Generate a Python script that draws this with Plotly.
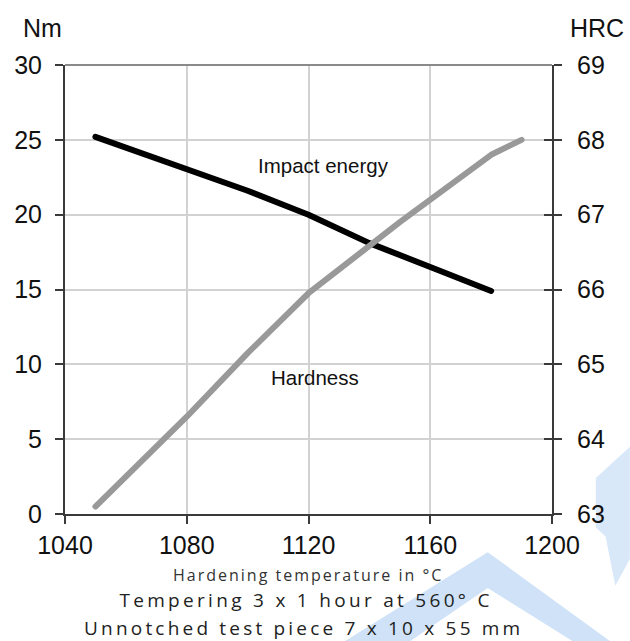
import plotly.graph_objects as go

# Hardening temperature (°C)
impact_temp = [1050, 1080, 1100, 1120, 1140, 1160, 1180]
impact_energy = [25.2, 23.1, 21.6, 20.0, 18.1, 16.5, 14.9]  # Nm

hard_temp = [1050, 1080, 1100, 1120, 1150, 1180, 1190]
hardness = [63.1, 64.3, 65.15, 65.95, 66.9, 67.8, 68.0]  # HRC

x_ticks = [1040, 1080, 1120, 1160, 1200]
nm_ticks = [0, 5, 10, 15, 20, 25, 30]
hrc_ticks = [63, 64, 65, 66, 67, 68, 69]

AXIS = "#3a3a3a"
GRID = "#d2d2d2"
TICKFONT = dict(family="Liberation Sans, Arial", size=25, color="#111111")

fig = go.Figure()

fig.add_trace(go.Scatter(
    x=impact_temp, y=impact_energy, mode="lines",
    line=dict(color="#000000", width=6), yaxis="y", showlegend=False,
    hoverinfo="skip",
))
fig.add_trace(go.Scatter(
    x=hard_temp, y=hardness, mode="lines",
    line=dict(color="#999999", width=6), yaxis="y2", showlegend=False,
    hoverinfo="skip",
))
# empty trace so the inner tick marks of the right axis get drawn
fig.add_trace(go.Scatter(x=[None], y=[None], yaxis="y3", showlegend=False))

fig.update_layout(
    width=630, height=641,
    margin=dict(l=65, r=78, t=65, b=127),
    paper_bgcolor="white", plot_bgcolor="white",
    xaxis=dict(
        range=[1040, 1200], tickvals=x_ticks, ticks="outside", ticklen=8,
        tickwidth=1.5, tickcolor=AXIS, showline=True, linecolor=AXIS,
        linewidth=2, showgrid=True, gridcolor=GRID, gridwidth=1.5,
        zeroline=False, tickfont=TICKFONT, ticklabelstandoff=0,
    ),
    yaxis=dict(
        range=[0, 30], tickvals=nm_ticks, ticks="outside", ticklen=8,
        tickwidth=1.5, tickcolor=AXIS, showline=True, linecolor=AXIS,
        linewidth=2, showgrid=True, gridcolor=GRID, gridwidth=1.5,
        zeroline=False, tickfont=TICKFONT, ticklabelstandoff=8,
    ),
    yaxis2=dict(
        range=[63, 69], tickvals=hrc_ticks, overlaying="y", side="right",
        ticks="outside", ticklen=8, tickwidth=1.5, tickcolor=AXIS,
        showline=True, linecolor=AXIS, linewidth=2, showgrid=False,
        zeroline=False, tickfont=TICKFONT, ticklabelstandoff=10,
    ),
    yaxis3=dict(
        range=[63, 69], tickvals=hrc_ticks, overlaying="y", side="right",
        ticks="inside", ticklen=8, tickwidth=1.5, tickcolor=AXIS,
        showline=False, showgrid=False, zeroline=False, showticklabels=False,
    ),
)

# top border of the plot area
fig.add_shape(type="line", xref="paper", yref="paper", x0=0, x1=1, y0=1, y1=1,
              line=dict(color="#8a8a8a", width=2), layer="above")

# faint logo watermark in the lower right corner
WM = "rgba(130,180,235,0.38)"
fig.add_shape(type="path", xref="paper", yref="paper", layer="below",
              path="M 0.575,-0.283 L 0.868,-0.085 L 1.119,-0.283 "
                   "L 1.042,-0.283 L 0.868,-0.165 L 0.709,-0.283 Z",
              fillcolor=WM, line=dict(width=0))
fig.add_shape(type="path", xref="paper", yref="paper", layer="below",
              path="M 1.09,0.08 L 1.16,0.15 L 1.16,-0.10 L 1.13,-0.16 "
                   "L 1.11,-0.05 L 1.09,-0.03 Z",
              fillcolor="rgba(130,180,235,0.3)", line=dict(width=0))

LABEL = dict(family="Liberation Sans, Arial", size=20.5, color="#111111")
fig.add_annotation(x=1125, y=23.3, xref="x", yref="y", text="Impact energy",
                   showarrow=False, font=LABEL)
fig.add_annotation(x=1122, y=9.15, xref="x", yref="y", text="Hardness",
                   showarrow=False, font=LABEL)

UNIT = dict(family="Liberation Sans, Arial", size=25, color="#111111")
fig.add_annotation(x=-0.047, y=1.082, xref="paper", yref="paper", text="Nm",
                   showarrow=False, font=UNIT, xanchor="center", yanchor="middle")
fig.add_annotation(x=1.092, y=1.082, xref="paper", yref="paper", text="HRC",
                   showarrow=False, font=UNIT, xanchor="center", yanchor="middle")

NOTE = "Open Sans, DejaVu Sans"
fig.add_annotation(x=0.499, y=-0.136, xref="paper", yref="paper",
                   text="Hardening temperature in °C", showarrow=False,
                   xanchor="center", yanchor="middle",
                   font=dict(family=NOTE, size=16, color="#333333"))
fig.add_annotation(x=0.495, y=-0.192, xref="paper", yref="paper",
                   text="Tempering 3 x 1 hour at 560° C", showarrow=False,
                   xanchor="center", yanchor="middle",
                   font=dict(family=NOTE, size=19, color="#222222"))
fig.add_annotation(x=0.49, y=-0.253, xref="paper", yref="paper",
                   text="Unnotched test piece 7 x 10 x 55 mm", showarrow=False,
                   xanchor="center", yanchor="middle",
                   font=dict(family=NOTE, size=19, color="#222222"))

# rounded line ends; spaced lettering for the notes under the axis
post = """
document.querySelectorAll('.scatterlayer path.js-line').forEach(function(p){
  p.style.strokeLinecap = 'round';
  p.style.strokeLinejoin = 'round';
});
var spacing = {4: '2px', 5: '3.3px', 6: '3.2px'};
document.querySelectorAll('.annotation').forEach(function(g){
  var i = g.getAttribute('data-index');
  if (spacing[i] !== undefined) {
    g.querySelectorAll('text').forEach(function(t){
      t.style.letterSpacing = spacing[i];
    });
  }
});
"""
fig.write_html("out.html", post_script=post)
